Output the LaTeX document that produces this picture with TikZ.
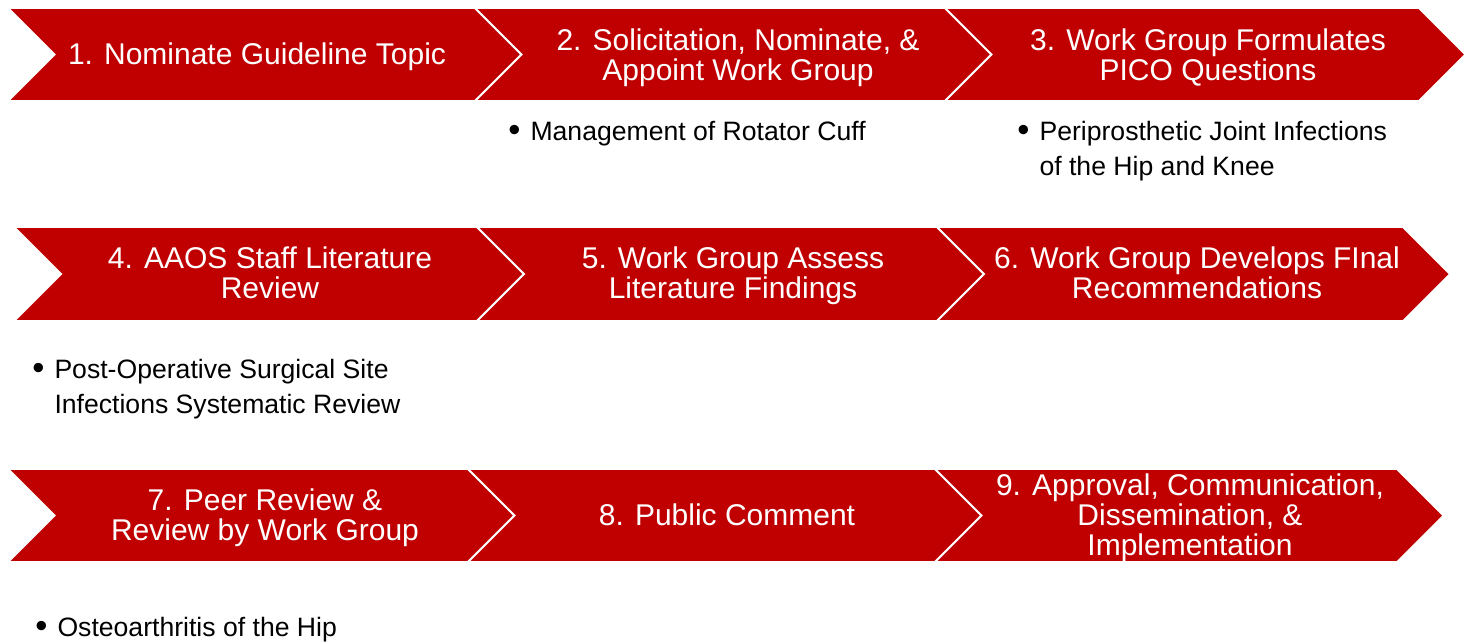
\documentclass[tikz,border=0pt]{standalone}
\usepackage{fontspec}
\setmainfont{Liberation Sans}
\usepackage{xcolor}
\usepackage{tikz}
\usetikzlibrary{positioning}
\definecolor{aaosred}{RGB}{192,0,0}
\newcommand{\notebullet}{\raisebox{-0.07em}{\scalebox{1.3}{\textbullet}}}

\begin{document}
\begin{tikzpicture}[x=0.5pt, y=-0.5pt,
    chev/.style={fill=aaosred, draw=white, line width=0.9pt},
    steptext/.style={text=white, align=center, font=\fontsize{15}{15}\selectfont},
    note/.style={anchor=base west, inner sep=0pt, font=\fontsize{13.3}{17.5}\selectfont}]
    \useasboundingbox (0,0) rectangle (1472,643);
    % Guideline development chevrons, one row of three per line
    \foreach \l/\r/\t/\b in {8/475/8/101, 475/945/8/101, 945/1419/8/101,
        14/477/227/321, 477/937/227/321, 937/1403/227/321,
        8/468/469/562, 468/935/469/562, 935/1397/469/562} {
      \pgfmathsetmacro{\h}{(\b-\t)/2}
      \draw[chev] (\l,\t) -- (\r,\t) -- (\r+\h,\t+\h) -- (\r,\b) -- (\l,\b) -- (\l+\h,\t+\h) -- cycle;
    }

    % Step labels
    \node[steptext] (s1) at (257,57) {1. Nominate Guideline Topic};
    \node[steptext] (s2) at (738,58) {2. Solicitation, Nominate, \&\\Appoint Work Group};
    \node[steptext] (s3) at (1208,57) {3. Work Group Formulates\\PICO Questions};
    \node[steptext] (s4) at (270,273) {4. AAOS Staff Literature\\Review};
    \node[steptext] (s5) at (733,276) {5. Work Group Assess\\Literature Findings};
    \node[steptext] (s6) at (1197,273) {6. Work Group Develops FInal\\Recommendations};
    \node[steptext] (s7) at (265,518) {7. Peer Review \&\\Review by Work Group};
    \node[steptext] (s8) at (727,515) {8. Public Comment};
    \node[steptext] (s9) at (1190,518) {9. Approval, Communication,\\Dissemination, \&\\Implementation};

    % Example guidelines under the steps
    \node[note] (n2) at (508,140) {\begin{tabular}[t]{@{}l@{\hspace{5pt}}l@{}}\notebullet & Management of Rotator Cuff\end{tabular}};
    \node[note] (n3) at (1017,140) {\begin{tabular}[t]{@{}l@{\hspace{5pt}}l@{}}\notebullet & Periprosthetic Joint Infections\\ & of the Hip and Knee\end{tabular}};
    \node[note] (n4) at (32,378) {\begin{tabular}[t]{@{}l@{\hspace{5pt}}l@{}}\notebullet & Post-Operative Surgical Site\\ & Infections Systematic Review\end{tabular}};
    \node[note] (n7) at (35,636) {\begin{tabular}[t]{@{}l@{\hspace{5pt}}l@{}}\notebullet & Osteoarthritis of the Hip\end{tabular}};
\end{tikzpicture}
\end{document}
